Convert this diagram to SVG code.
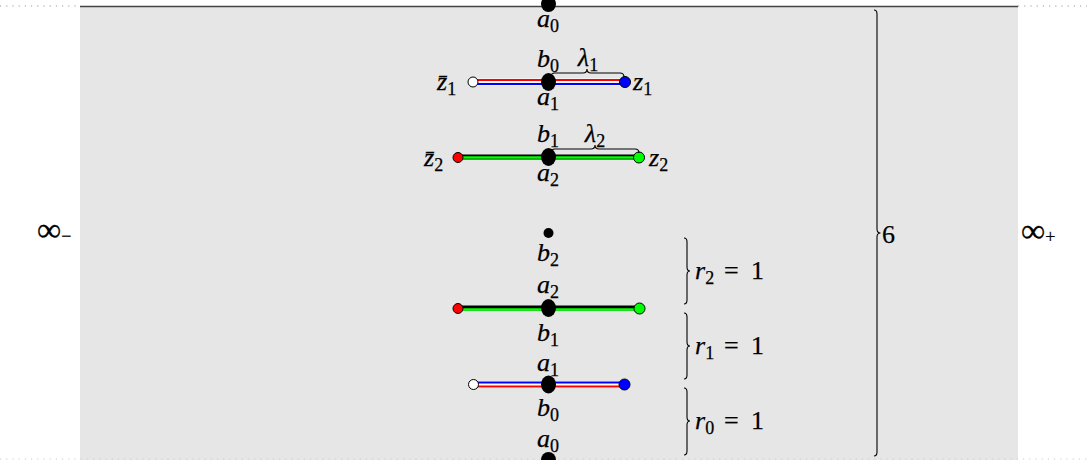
<svg xmlns="http://www.w3.org/2000/svg" width="1087" height="460" viewBox="0 0 1087 460">
<style>
.m{font-family:"Liberation Serif","DejaVu Serif",serif;font-style:italic;font-size:26px;fill:#000;stroke:#000;stroke-width:0.25}
.r{font-family:"Liberation Serif","DejaVu Serif",serif;font-style:normal;font-size:26px;fill:#000;stroke:#000;stroke-width:0.25}
.s{font-size:18px;font-style:normal}
.inf{font-size:34px}
.br{fill:none;stroke:#000;stroke-width:1.1}
.dot{stroke:#000;stroke-width:1}
</style>
<g id="background">
<rect x="80" y="7" width="938" height="453" fill="#e6e6e6"/>
<line x1="80" y1="6.5" x2="1018" y2="6.5" stroke="#444" stroke-width="1.6"/>
<line x1="0" y1="6" x2="80" y2="6" stroke="#999" stroke-width="1.2" stroke-dasharray="1.2,5"/>
<line x1="1018" y1="6" x2="1087" y2="6" stroke="#999" stroke-width="1.2" stroke-dasharray="1.2,5"/>
<line x1="0" y1="459" x2="1087" y2="459" stroke="#ccc" stroke-width="1.2" stroke-dasharray="1.2,5"/>
</g>
<g id="connectors">
<line x1="473" y1="82" x2="625" y2="82" stroke="#fff" stroke-width="7"/>
<line x1="473" y1="80" x2="625" y2="80" stroke="#f00" stroke-width="2.2"/>
<line x1="473" y1="84" x2="625" y2="84" stroke="#00f" stroke-width="2.2"/>
<line x1="457" y1="157" x2="640" y2="157" stroke="#000" stroke-width="5"/>
<line x1="457" y1="157.5" x2="640" y2="157.5" stroke="#0f0" stroke-width="2.6"/>
<line x1="457" y1="308" x2="640" y2="308" stroke="#000" stroke-width="5"/>
<line x1="457" y1="309.5" x2="640" y2="309.5" stroke="#0f0" stroke-width="2.6"/>
<line x1="473" y1="384.5" x2="625" y2="384.5" stroke="#fff" stroke-width="7"/>
<line x1="473" y1="382.5" x2="625" y2="382.5" stroke="#00f" stroke-width="2.2"/>
<line x1="473" y1="386.5" x2="625" y2="386.5" stroke="#f00" stroke-width="2.2"/>
</g>
<g id="row-top">
<ellipse cx="548.5" cy="4" rx="7.5" ry="8" fill="#000"/>
<text class="m" x="548" y="27" text-anchor="middle">a<tspan class="s" dy="5">0</tspan></text>
</g>
<g id="row1">
<ellipse cx="548.5" cy="82" rx="7.5" ry="9" fill="#000"/>
<circle class="dot" cx="473" cy="82" r="5" fill="#fff"/>
<circle class="dot" cx="625" cy="82" r="5.5" fill="#00f"/>
<text class="m" x="548" y="67" text-anchor="middle">b<tspan class="s" dy="5">0</tspan></text>
<text class="m" x="548" y="105" text-anchor="middle">a<tspan class="s" dy="5">1</tspan></text>
<text class="m" x="437" y="90">z̄<tspan class="s" dy="5">1</tspan></text>
<text class="m" x="633" y="90">z<tspan class="s" dy="5">1</tspan></text>
<path class="br" d="M551,77 Q551,73 555,73 L583,73 Q587,73 587,69 Q587,73 591,73 L620,73 Q624,73 624,77"/>
<text class="m" x="588" y="66" text-anchor="middle">λ<tspan class="s" dy="5">1</tspan></text>
</g>
<g id="row2">
<ellipse cx="548.5" cy="157" rx="7.5" ry="9" fill="#000"/>
<circle class="dot" cx="458" cy="157.5" r="5" fill="#f00"/>
<circle class="dot" cx="639" cy="157.5" r="5.5" fill="#0f0"/>
<text class="m" x="548" y="142" text-anchor="middle">b<tspan class="s" dy="5">1</tspan></text>
<text class="m" x="548" y="181" text-anchor="middle">a<tspan class="s" dy="5">2</tspan></text>
<text class="m" x="424" y="166">z̄<tspan class="s" dy="5">2</tspan></text>
<text class="m" x="649" y="166">z<tspan class="s" dy="5">2</tspan></text>
<path class="br" d="M551,153 Q551,149 555,149 L591,149 Q595,149 595,145 Q595,149 599,149 L635,149 Q639,149 639,153"/>
<text class="m" x="595" y="142" text-anchor="middle">λ<tspan class="s" dy="5">2</tspan></text>
</g>
<g id="point-b2">
<circle cx="548.5" cy="233" r="5" fill="#000"/>
<text class="m" x="548" y="261" text-anchor="middle">b<tspan class="s" dy="5">2</tspan></text>
</g>
<g id="row3">
<ellipse cx="548.5" cy="308" rx="7.5" ry="9" fill="#000"/>
<circle class="dot" cx="458" cy="308.5" r="5" fill="#f00"/>
<circle class="dot" cx="639.5" cy="308.5" r="5.5" fill="#0f0"/>
<text class="m" x="548" y="293" text-anchor="middle">a<tspan class="s" dy="5">2</tspan></text>
<text class="m" x="548" y="341" text-anchor="middle">b<tspan class="s" dy="5">1</tspan></text>
</g>
<g id="row4">
<ellipse cx="548.5" cy="384.5" rx="7.5" ry="9" fill="#000"/>
<circle class="dot" cx="473.5" cy="384.5" r="5" fill="#fff"/>
<circle class="dot" cx="624.5" cy="384.5" r="5.5" fill="#00f"/>
<text class="m" x="548" y="371" text-anchor="middle">a<tspan class="s" dy="5">1</tspan></text>
<text class="m" x="548" y="416" text-anchor="middle">b<tspan class="s" dy="5">0</tspan></text>
</g>
<g id="row-bottom">
<ellipse cx="548.5" cy="460" rx="7.5" ry="8" fill="#000"/>
<text class="m" x="548" y="447" text-anchor="middle">a<tspan class="s" dy="5">0</tspan></text>
</g>
<g id="brace-r2">
<path class="br" d="M684,238 Q687,238 687,242 L687,267 Q687,271 690,271 Q687,271 687,275 L687,300 Q687,304 684,304"/>
<text class="m" x="695" y="279">r<tspan class="s" dy="5">2</tspan></text>
<text class="r" x="724" y="279">=</text>
<text class="r" x="751" y="279">1</text>
</g>
<g id="brace-r1">
<path class="br" d="M684,313 Q687,313 687,317 L687,342 Q687,346 690,346 Q687,346 687,350 L687,375 Q687,379 684,379"/>
<text class="m" x="695" y="354">r<tspan class="s" dy="5">1</tspan></text>
<text class="r" x="724" y="354">=</text>
<text class="r" x="751" y="354">1</text>
</g>
<g id="brace-r0">
<path class="br" d="M684,388 Q687,388 687,392 L687,417 Q687,421 690,421 Q687,421 687,425 L687,451 Q687,455 684,455"/>
<text class="m" x="695" y="429">r<tspan class="s" dy="5">0</tspan></text>
<text class="r" x="724" y="429">=</text>
<text class="r" x="751" y="429">1</text>
</g>
<g id="brace-total">
<path class="br" d="M874,10 Q877,10 877,14 L877,229 Q877,233 880.5,233 Q877,233 877,237 L877,452 Q877,456 874,456"/>
<text class="r" x="882" y="243">6</text>
</g>
<g id="inf-minus">
<text class="r" x="37" y="241"><tspan class="inf">∞</tspan><tspan class="s" dy="1">−</tspan></text>
</g>
<g id="inf-plus">
<text class="r" x="1021" y="242"><tspan class="inf">∞</tspan><tspan class="s" dy="1">+</tspan></text>
</g>
</svg>
